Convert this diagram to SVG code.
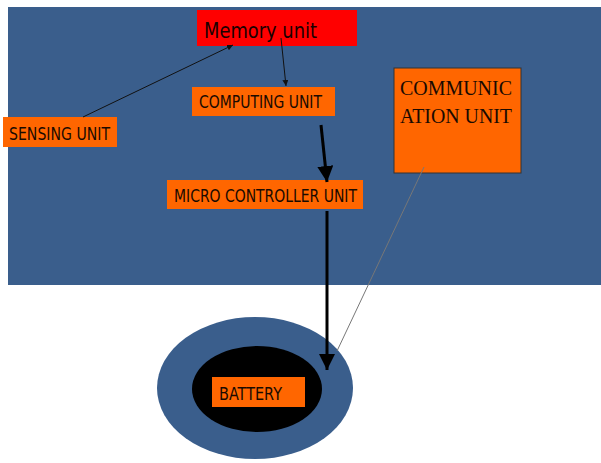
<svg xmlns="http://www.w3.org/2000/svg" width="601" height="463" viewBox="0 0 601 463">
  <style>
    .box { fill: #ff6600; }
    .lbl { font-family: "DejaVu Sans Condensed", "Liberation Sans", sans-serif; font-size: 17px; fill: #1a0a00; }
    .thin { stroke: #111; stroke-width: 1; fill: none; }
    .thick { stroke: #000; stroke-width: 3; fill: none; }
  </style>
  <defs>
    <marker id="arrSmall" viewBox="0 0 10 10" refX="10" refY="5" markerWidth="6" markerHeight="6" orient="auto" markerUnits="userSpaceOnUse">
      <path d="M0,0 L10,5 L0,10 z" fill="#111"/>
    </marker>
    <marker id="arrBig" viewBox="0 0 10 10" refX="10" refY="5" markerWidth="16" markerHeight="16" orient="auto" markerUnits="userSpaceOnUse">
      <path d="M0,0 L10,5 L0,10 z" fill="#000"/>
    </marker>
  </defs>

  <rect x="0" y="0" width="601" height="463" fill="#ffffff"/>
  <!-- sensor node body -->
  <rect x="8" y="7" width="593" height="278" fill="#3a5e8c"/>

  <g id="battery-housing">
    <ellipse cx="255" cy="388" rx="98" ry="71" fill="#3a5e8c"/>
    <ellipse cx="257" cy="389" rx="65" ry="43" fill="#000"/>
  </g>

  <g id="memory-unit">
    <rect x="197" y="10" width="160" height="36" fill="#ff0000"/>
    <text x="204" y="38" font-family="'DejaVu Sans Condensed', 'Liberation Sans', sans-serif" font-size="22" fill="#1a0000" textLength="113" lengthAdjust="spacingAndGlyphs">Memory unit</text>
  </g>

  <g id="computing-unit">
    <rect class="box" x="192" y="87" width="143" height="29"/>
    <text class="lbl" x="199" y="108" textLength="123" lengthAdjust="spacingAndGlyphs">COMPUTING UNIT</text>
  </g>

  <g id="sensing-unit">
    <rect class="box" x="3" y="117" width="114" height="30"/>
    <text class="lbl" x="9" y="140" textLength="101" lengthAdjust="spacingAndGlyphs">SENSING UNIT</text>
  </g>

  <g id="communication-unit">
    <rect class="box" x="394" y="68" width="127" height="105" stroke="#333" stroke-width="1"/>
    <text x="400" y="95" font-family="'Liberation Serif', serif" font-size="22" fill="#1a0a00" textLength="112" lengthAdjust="spacingAndGlyphs">COMMUNIC</text>
    <text x="400" y="123" font-family="'Liberation Serif', serif" font-size="22" fill="#1a0a00" textLength="112" lengthAdjust="spacingAndGlyphs">ATION UNIT</text>
  </g>

  <g id="micro-controller-unit">
    <rect class="box" x="167" y="180" width="196" height="29"/>
    <text class="lbl" x="174" y="202" textLength="183" lengthAdjust="spacingAndGlyphs">MICRO CONTROLLER UNIT</text>
  </g>

  <g id="battery">
    <rect class="box" x="212" y="377" width="93" height="30"/>
    <text class="lbl" x="219" y="400" textLength="63" lengthAdjust="spacingAndGlyphs">BATTERY</text>
  </g>

  <g id="connectors">
    <line class="thin" x1="83" y1="117" x2="233" y2="45" marker-end="url(#arrSmall)"/>
    <line class="thin" x1="281" y1="38" x2="286" y2="86" marker-end="url(#arrSmall)"/>
    <line class="thick" x1="321" y1="125" x2="327" y2="182" marker-end="url(#arrBig)"/>
    <line class="thick" x1="327" y1="211" x2="327" y2="370" marker-end="url(#arrBig)"/>
    <line x1="424" y1="167" x2="337" y2="351" stroke="#777" stroke-width="1"/>
  </g>
</svg>
